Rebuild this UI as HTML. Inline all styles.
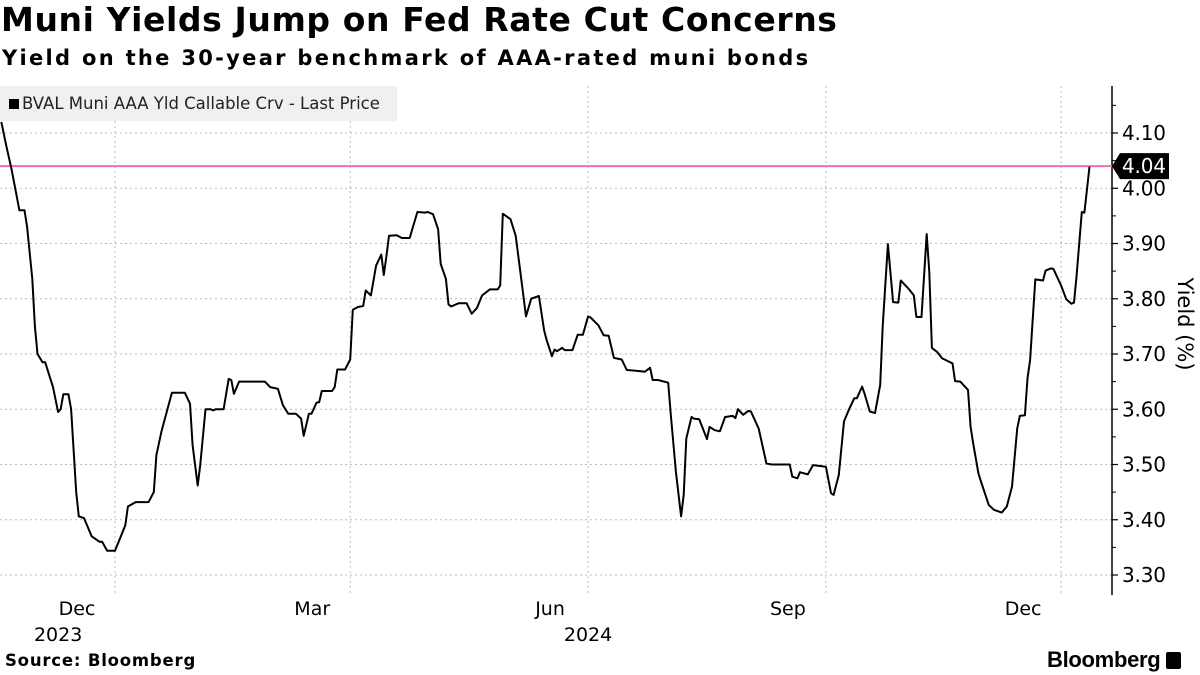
<!DOCTYPE html>
<html><head><meta charset="utf-8"><style>
body{margin:0;background:#fff;width:1200px;height:675px;overflow:hidden;position:relative;font-family:"DejaVu Sans","Liberation Sans",sans-serif}
.t{position:absolute;white-space:nowrap}
</style></head><body>
<div class="t" style="left:1px;top:0px;font-size:33px;letter-spacing:0.6px;font-weight:bold;color:#000">Muni Yields Jump on Fed Rate Cut Concerns</div>
<div class="t" style="left:2px;top:46px;font-size:21px;letter-spacing:2.3px;font-weight:bold;color:#000">Yield on the 30-year benchmark of AAA-rated muni bonds</div>
<svg id="c" width="1200" height="675" style="position:absolute;left:0;top:0"></svg>
<div class="t" style="left:0;top:86px;width:397px;height:35px;background:#f0f0f0;font-family:'DejaVu Sans',sans-serif;font-size:16.5px;line-height:35px;color:#222"><span style="display:inline-block;width:10px;height:10px;background:#000;margin:0 3px 0 9px"></span>BVAL Muni AAA Yld Callable Crv - Last Price</div>
<div class="t" style="left:5px;top:651px;font-size:16.5px;letter-spacing:0.8px;font-weight:bold">Source: Bloomberg</div>
<div class="t" style="left:1047px;top:647px;font-size:22px;font-weight:bold;font-family:'Liberation Sans',sans-serif;letter-spacing:-0.3px">Bloomberg <span style="display:inline-block;width:15px;height:17px;background:#000;border-radius:2px;vertical-align:-2px"></span></div>
<script>
const dayOffsets=[-44,-42,-40,-37,-35,-34,-32,-31,-30,-28,-27,-24,-22,-21,-20,-18,-17,-15,-14,-12,-9,-6,-5,-3,0,2,4,5,8,13,15,16,18,20,22,27,29,30,32,33,35,37,38,39,42,44,45,46,48,52,58,60,63,65,67,70,72,73,75,76,78,79,80,84,85,86,89,91,92,94,96,97,99,101,103,104,105,106,109,111,114,115,117,120,121,123,125,126,128,129,130,133,136,138,140,142,145,148,149,150,153,155,157,159,161,164,166,167,169,170,171,173,174,177,179,181,183,184,187,189,191,193,196,198,203,205,207,208,210,214,215,217,219,220,221,223,224,226,229,230,232,234,236,239,240,241,243,245,246,249,252,254,261,262,264,265,268,270,275,277,278,280,282,284,286,287,289,290,292,294,296,297,299,301,303,304,307,309,310,312,314,315,316,318,320,324,325,327,330,331,332,334,335,338,340,343,345,347,349,350,352,353,354,356,359,360,362,363,366,368,370,371,372,374,375,377];
const yields=[4.12,4.076,4.034,3.96,3.96,3.93,3.836,3.75,3.70,3.685,3.685,3.64,3.595,3.60,3.627,3.627,3.60,3.45,3.406,3.403,3.37,3.36,3.36,3.344,3.344,3.367,3.39,3.424,3.432,3.432,3.45,3.517,3.56,3.595,3.63,3.63,3.61,3.535,3.462,3.50,3.60,3.60,3.598,3.60,3.60,3.655,3.653,3.628,3.65,3.65,3.65,3.64,3.637,3.607,3.592,3.592,3.583,3.552,3.592,3.592,3.612,3.613,3.633,3.633,3.64,3.672,3.672,3.69,3.78,3.785,3.787,3.815,3.806,3.86,3.88,3.843,3.877,3.914,3.915,3.91,3.91,3.926,3.957,3.956,3.957,3.953,3.926,3.863,3.836,3.79,3.786,3.792,3.792,3.773,3.783,3.806,3.817,3.817,3.824,3.954,3.944,3.914,3.842,3.768,3.80,3.805,3.743,3.725,3.696,3.708,3.705,3.711,3.707,3.707,3.735,3.735,3.768,3.766,3.752,3.734,3.733,3.693,3.69,3.671,3.669,3.668,3.675,3.653,3.653,3.648,3.59,3.487,3.406,3.445,3.547,3.586,3.583,3.582,3.546,3.568,3.562,3.56,3.586,3.588,3.584,3.60,3.59,3.597,3.596,3.565,3.502,3.50,3.50,3.478,3.475,3.486,3.482,3.499,3.496,3.448,3.445,3.481,3.578,3.60,3.62,3.62,3.641,3.628,3.596,3.593,3.644,3.75,3.899,3.794,3.793,3.833,3.818,3.806,3.767,3.767,3.917,3.848,3.711,3.704,3.692,3.683,3.651,3.65,3.635,3.568,3.538,3.484,3.469,3.427,3.418,3.413,3.424,3.46,3.565,3.588,3.589,3.656,3.689,3.835,3.833,3.851,3.855,3.854,3.824,3.799,3.791,3.793,3.842,3.957,3.956,4.039];
const yTicks=[3.30,3.40,3.50,3.60,3.70,3.80,3.90,4.00,4.10];
const monthTickDays=[0,91,183,275,366];
const monthLabels=["Dec","Mar","Jun","Sep","Dec"];
const yearDays=[-22,183];
const yearLabels=["2023","2024"];
const lastValue=4.04;

const NS="http://www.w3.org/2000/svg";
const svg=document.getElementById('c');
const X0=115,PXD=2.585,PLOT_L=0,PLOT_R=1112,PLOT_T=86,PLOT_B=595;
const xs=d=>X0+d*PXD;
const ys=v=>133+(4.10-v)*552.5;
function mk(tag,attrs,parent){const e=document.createElementNS(NS,tag);for(const k in attrs)e.setAttribute(k,attrs[k]);(parent||svg).appendChild(e);return e;}
const defs=mk('defs',{});const cp=mk('clipPath',{id:'pc'},defs);mk('rect',{x:PLOT_L,y:PLOT_T,width:PLOT_R-PLOT_L,height:PLOT_B-PLOT_T},cp);
yTicks.forEach(v=>{
 const g=mk('line',{x1:0,x2:PLOT_R,y1:ys(v),y2:ys(v),stroke:'#bbb','stroke-dasharray':'2,3','stroke-width':1});
 
 
 const tk=mk('line',{x1:PLOT_R,x2:PLOT_R+6,y1:ys(v),y2:ys(v),stroke:'#000','stroke-width':1.2});
 
 
 const mt=mk('line',{x1:PLOT_R,x2:PLOT_R+4,y1:ys(v+0.05),y2:ys(v+0.05),stroke:'#000','stroke-width':1});
 
 
 const t=mk('text',{x:PLOT_R+10,y:ys(v)+7,'font-size':20,'font-family':'DejaVu Sans, sans-serif',fill:'#000','textLength':44});
 t.textContent=v.toFixed(2);
 
 
});
monthTickDays.forEach((d,i)=>{
 const g=mk('line',{x1:xs(d),x2:xs(d),y1:PLOT_T,y2:PLOT_B,stroke:'#bbb','stroke-dasharray':'2,3','stroke-width':1});
 
 
 const t=mk('text',{x:xs(d)-38,y:615,'text-anchor':'middle','font-size':19,'font-family':'DejaVu Sans, sans-serif',fill:'#000'});
 t.textContent=monthLabels[i];
 
 
});
yearDays.forEach((d,i)=>{
 const t=mk('text',{x:xs(d),y:641,'text-anchor':'middle','font-size':19,'font-family':'DejaVu Sans, sans-serif',fill:'#000'});
 t.textContent=yearLabels[i];
 
 
});
const ax=mk('line',{x1:PLOT_R,x2:PLOT_R,y1:PLOT_T,y2:PLOT_B,stroke:'#000','stroke-width':1.5});


const pl=mk('line',{x1:0,x2:PLOT_R,y1:ys(lastValue),y2:ys(lastValue),stroke:'#f06bb4','stroke-width':2});


const pts=dayOffsets.map((d,i)=>xs(d).toFixed(1)+','+ys(yields[i]).toFixed(1)).join(' ');
const line=mk('polyline',{points:pts,fill:'none',stroke:'#000','stroke-width':2,'stroke-linejoin':'round','clip-path':'url(#pc)'});


const ly=ys(lastValue);
const tag=mk('path',{d:`M${PLOT_R},${ly} L${PLOT_R+8},${ly-13} L${PLOT_R+57},${ly-13} L${PLOT_R+57},${ly+13} L${PLOT_R+8},${ly+13} Z`,fill:'#000'});


const tt=mk('text',{x:PLOT_R+10,y:ly+7,'font-size':20,'font-family':'DejaVu Sans, sans-serif',fill:'#fff','textLength':44});
tt.textContent=lastValue.toFixed(2);


const yt=mk('text',{x:0,y:0,'font-size':21,'font-family':'DejaVu Sans, sans-serif',fill:'#000','text-anchor':'middle',transform:'translate(1178,324) rotate(90)'});
yt.textContent='Yield (%)';


</script>
</body></html>
